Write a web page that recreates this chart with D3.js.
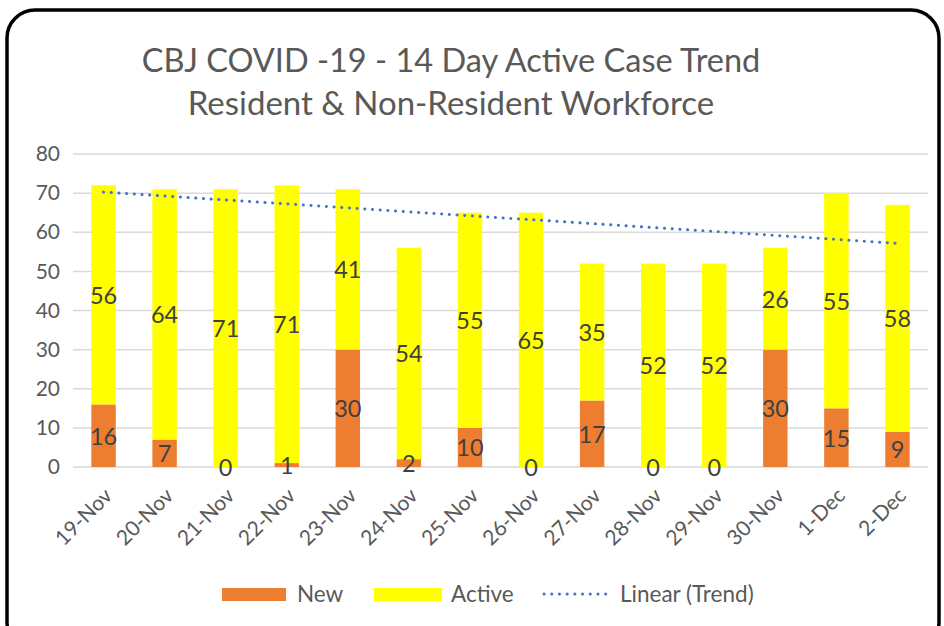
<!DOCTYPE html>
<html>
<head>
<meta charset="utf-8">
<script src="https://cdn.jsdelivr.net/npm/d3@7"></script>
<style>
  body { margin: 0; background: #fff; }
  text { font-family: Lato, "Noto Sans", sans-serif; }
</style>
</head>
<body>
<div class="chart"></div>
<script>
// chart data
var days = ["19-Nov", "20-Nov", "21-Nov", "22-Nov", "23-Nov", "24-Nov", "25-Nov",
            "26-Nov", "27-Nov", "28-Nov", "29-Nov", "30-Nov", "1-Dec", "2-Dec"];
var newCases = [16, 7, 0, 1, 30, 2, 10, 0, 17, 0, 0, 30, 15, 9];
var activeCases = [56, 64, 71, 71, 41, 54, 55, 65, 35, 52, 52, 26, 55, 58];
var yTicks = [0, 10, 20, 30, 40, 50, 60, 70, 80];
var titleLines = ["CBJ COVID -19 - 14 Day Active Case Trend", "Resident & Non-Resident Workforce"];

var svgWidth = 944;
var svgHeight = 626;

var margin = { top: 154, right: 16, bottom: 159, left: 73 };
var width = svgWidth - margin.left - margin.right;
var height = svgHeight - margin.top - margin.bottom;

var svg = d3.select(".chart")
  .append("svg")
  .attr("width", svgWidth)
  .attr("height", svgHeight);

// rounded frame
svg.append("rect")
  .attr("x", 7).attr("y", 10)
  .attr("width", 932).attr("height", 640)
  .attr("rx", 28)
  .attr("fill", "none")
  .attr("stroke", "#000")
  .attr("stroke-width", 3.5);

// title
svg.selectAll(".title")
  .data(titleLines)
  .enter()
  .append("text")
  .attr("class", "title")
  .attr("x", 451)
  .attr("y", (d, i) => 72 + i * 43)
  .attr("text-anchor", "middle")
  .attr("font-size", (d, i) => i ? "33px" : "32.5px")
  .attr("fill", "#595959")
  .text(d => d);

var chartGroup = svg.append("g")
  .attr("transform", `translate(${margin.left}, ${margin.top})`);

var x = d3.scaleBand()
  .domain(days)
  .range([0, width])
  .paddingInner(0.6)
  .paddingOuter(0.3);

var y = d3.scaleLinear()
  .domain([0, 80])
  .range([height, 0]);

// gridlines
chartGroup.selectAll(".grid")
  .data(yTicks)
  .enter()
  .append("line")
  .attr("x1", 0).attr("x2", width)
  .attr("y1", d => y(d)).attr("y2", d => y(d))
  .attr("stroke", "#d9d9d9")
  .attr("stroke-width", 1.5);

// y axis
var yAxis = d3.axisLeft(y).tickValues(yTicks).tickSize(0).tickPadding(13);
chartGroup.append("g")
  .call(yAxis)
  .call(g => g.select(".domain").remove())
  .selectAll("text")
  .attr("font-size", "21px")
  .attr("fill", "#595959");

// x axis labels
var xAxis = d3.axisBottom(x).tickSize(0);
chartGroup.append("g")
  .attr("transform", `translate(0, ${height})`)
  .call(xAxis)
  .call(g => g.select(".domain").remove())
  .selectAll("text")
  .attr("font-size", "21px")
  .attr("fill", "#595959")
  .attr("text-anchor", "end")
  .attr("dy", null)
  .attr("y", 0)
  .attr("transform", "translate(10, 30) rotate(-45)");

// stacked bars
var rows = days.map((d, i) => ({ day: d, New: newCases[i], Active: activeCases[i] }));
var stack = d3.stack().keys(["New", "Active"])(rows);
var colors = { New: "#ED7D31", Active: "#FFFF00" };

stack.forEach(function(layer) {
  chartGroup.selectAll(".bar-" + layer.key)
    .data(layer)
    .enter()
    .append("rect")
    .attr("x", d => x(d.data.day))
    .attr("y", d => y(d[1]))
    .attr("width", x.bandwidth())
    .attr("height", d => y(d[0]) - y(d[1]))
    .attr("fill", colors[layer.key]);
});

// data labels
stack.forEach(function(layer) {
  chartGroup.selectAll(".lbl-" + layer.key)
    .data(layer)
    .enter()
    .append("text")
    .attr("x", d => x(d.data.day) + x.bandwidth() / 2)
    .attr("y", d => y((d[0] + d[1]) / 2))
    .attr("dy", "0.38em")
    .attr("text-anchor", "middle")
    .attr("font-size", "23.5px")
    .attr("fill", "#404040")
    .text(d => d.data[layer.key]);
});

// linear trend of totals
var totals = days.map((d, i) => newCases[i] + activeCases[i]);
var n = totals.length;
var mx = d3.mean(totals, (t, i) => i);
var my = d3.mean(totals);
var sxy = d3.sum(totals, (t, i) => (i - mx) * (t - my));
var sxx = d3.sum(totals, (t, i) => (i - mx) * (i - mx));
var slope = sxy / sxx;
var icpt = my - slope * mx;

chartGroup.append("line")
  .attr("x1", x(days[0]) + x.bandwidth() / 2)
  .attr("x2", x(days[n - 1]) + x.bandwidth() / 2)
  .attr("y1", y(icpt))
  .attr("y2", y(icpt + slope * (n - 1)))
  .attr("stroke", "#4472C4")
  .attr("stroke-width", 3)
  .attr("stroke-linecap", "round")
  .attr("stroke-dasharray", "0.1,7.6");

// legend
var legend = svg.append("g");
legend.append("rect").attr("x", 222).attr("y", 588).attr("width", 64).attr("height", 13).attr("fill", colors.New);
legend.append("text").attr("x", 297).attr("y", 602).attr("font-size", "22.5px").attr("fill", "#595959").text("New");
legend.append("rect").attr("x", 374).attr("y", 588).attr("width", 68).attr("height", 13).attr("fill", colors.Active);
legend.append("text").attr("x", 451).attr("y", 602).attr("font-size", "22.5px").attr("fill", "#595959").text("Active");
legend.append("line")
  .attr("x1", 544).attr("x2", 607).attr("y1", 594).attr("y2", 594)
  .attr("stroke", "#4472C4").attr("stroke-width", 3)
  .attr("stroke-linecap", "round").attr("stroke-dasharray", "0.1,7.6");
legend.append("text").attr("x", 620).attr("y", 602).attr("font-size", "22.5px").attr("fill", "#595959").text("Linear (Trend)");
</script>
</body>
</html>
